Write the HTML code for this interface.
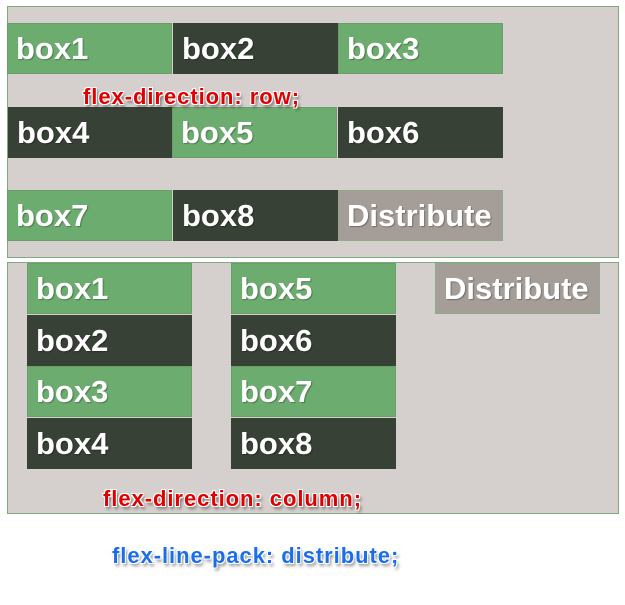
<!DOCTYPE html>
<html><head><meta charset="utf-8"><style>
body{margin:0;width:625px;height:605px;background:#fff;font-family:"Liberation Sans",Arial,sans-serif;position:relative;overflow:hidden}
.c{position:absolute;left:7px;width:612px;background:#d5cfcd;border:1px solid #7fa97f;box-sizing:border-box}
.b{position:absolute;width:165px;height:51px;box-sizing:border-box;border:1px solid #6a9e6a;color:#fff;font-weight:bold;font-size:31px;line-height:49px;padding-left:8px;text-shadow:1px 1px 1px rgba(0,0,0,.3);white-space:nowrap;overflow:hidden}
.g{background:#6dac6f}.d{background:#374135;border-color:#374135}.x{background:#a59d98;border-color:#8bab8b}
.t{position:absolute;font-weight:bold;font-size:22px;letter-spacing:0.95px;text-shadow:1px 1px 0 #fff,-1px -1px 0 #fff,1px -1px 0 #fff,-1px 1px 0 #fff,2px 3px 3px rgba(0,0,0,.5);white-space:nowrap}
</style></head><body>
<div class="c" style="top:6px;height:252px"></div>
<div class="b g" style="left:7px;top:23px">box1</div>
<div class="b d" style="left:173px;top:23px">box2</div>
<div class="b g" style="left:338px;top:23px">box3</div>
<div class="b d" style="left:8px;top:107px">box4</div>
<div class="b g" style="left:172px;top:107px">box5</div>
<div class="b d" style="left:338px;top:107px">box6</div>
<div class="b g" style="left:7px;top:190px">box7</div>
<div class="b d" style="left:173px;top:190px">box8</div>
<div class="b x" style="left:338px;top:190px">Distribute</div>
<div class="t" style="left:83px;top:84px;color:#e00000">flex-direction: row;</div>

<div class="c" style="top:262px;height:252px"></div>
<div class="b g" style="left:27px;top:263px">box1</div>
<div class="b d" style="left:27px;top:315px">box2</div>
<div class="b g" style="left:27px;top:366px">box3</div>
<div class="b d" style="left:27px;top:418px">box4</div>
<div class="b g" style="left:231px;top:263px">box5</div>
<div class="b d" style="left:231px;top:315px">box6</div>
<div class="b g" style="left:231px;top:366px">box7</div>
<div class="b d" style="left:231px;top:418px">box8</div>
<div class="b x" style="left:435px;top:263px">Distribute</div>
<div class="t" style="left:103px;top:486px;color:#e00000">flex-direction: column;</div>
<div class="t" style="left:112px;top:543px;color:#1a6fe8">flex-line-pack: distribute;</div>
</body></html>
